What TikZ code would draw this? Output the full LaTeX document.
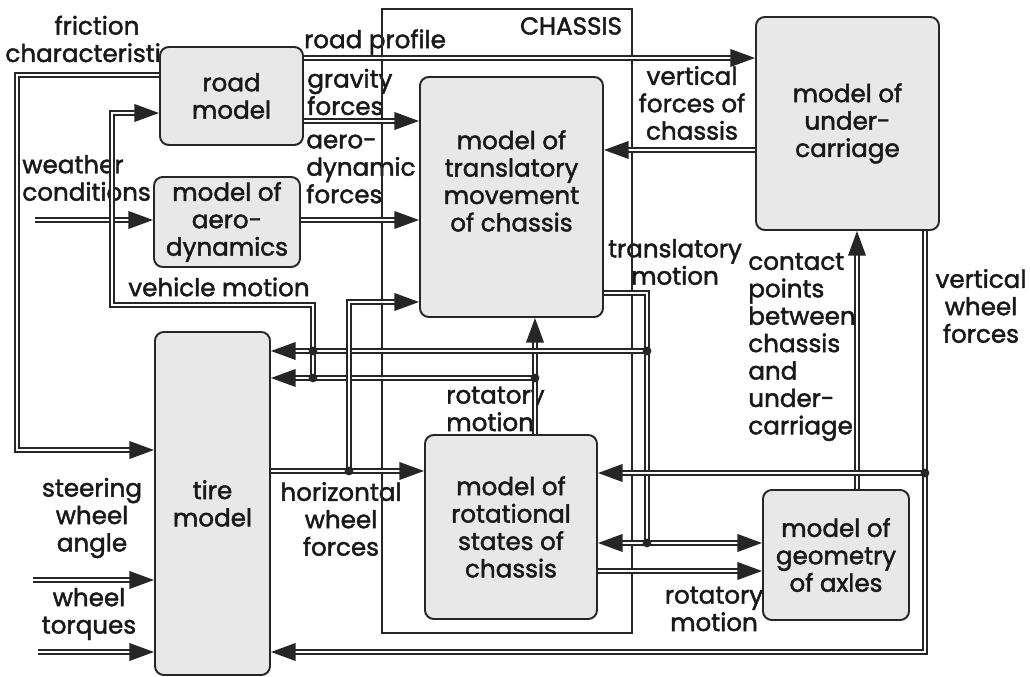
\documentclass[tikz,border=0pt]{standalone}
\usepackage{fontspec}
\setmainfont{Poppins}[FakeBold=1.8]
\usetikzlibrary{arrows.meta}
\newcommand{\diagfont}{\fontsize{14pt}{15.6pt}\selectfont}
\begin{document}
\begin{tikzpicture}[x=0.2mm,y=-0.2mm,
    block/.style={draw=black!85,line width=1.1pt,rounded corners=5pt,fill=black!9,align=center,inner sep=0pt,font=\diagfont,text=black!90},
    frame/.style={draw=black!85,line width=0.8pt,inner sep=0pt},
    lbl/.style={font=\diagfont,text=black!90,inner sep=0pt},
    flowline/.style={draw=black!85,line width=0.95pt,double=white,double distance=1.4pt},
    flow/.style={flowline,-{Triangle[length=14pt,width=10pt]}},
    flowboth/.style={flowline,{Triangle[length=14pt,width=10pt]}-{Triangle[length=14pt,width=10pt]}},
    dot/.style={circle,fill=black!85,inner sep=0pt,minimum size=5pt}]
  \useasboundingbox (0,0) rectangle (1030,677);

  \node[lbl,align=center] (friction) at (97,39) {friction\\characteristics};
  \node[lbl] (profile) at (375,42) {road profile};
  \node[lbl,align=left,anchor=west] (gravity) at (307,92) {gravity\\forces};
  \node[lbl,align=left,anchor=west] (aeroforces) at (306,169) {aero-\\dynamic\\forces};
  \node[lbl,align=left,anchor=west] (weather) at (22,178) {weather\\conditions};
  \node[lbl] (vehmotion) at (219,287) {vehicle motion};
  \node[lbl,align=center] (vertforces) at (692,103) {vertical\\forces of\\chassis};
  \node[lbl,align=center] (transmotion) at (675,262) {translatory\\motion};
  \node[lbl,align=left,anchor=west] (contact) at (748,347) {contact\\points\\between\\chassis\\and\\under-\\carriage};
  \node[lbl,align=center] (vertwheel) at (981,306) {vertical\\wheel\\forces};
  \node[lbl,align=left,anchor=west] (rotmotionA) at (446,409) {rotatory\\motion};
  \node[lbl,align=center] (rotmotionB) at (714,609) {rotatory\\motion};
  \node[lbl,align=center] (horwheel) at (341,519) {horizontal\\wheel\\forces};
  \node[lbl,align=center] (steering) at (92,518) {steering\\wheel\\angle};
  \node[lbl,align=center] (torques) at (89,614) {wheel\\torques};

  \node[frame,minimum width=50mm,minimum height=124.8mm] (chassis) at (507,321) {};
  \node[lbl] (chassislbl) at (571,26) {CHASSIS};

  \node[block,minimum width=28.6mm,minimum height=19.6mm] (road) at (231.5,96) {road\\model};
  \node[block,minimum width=29.2mm,minimum height=18mm] (aero) at (227,222) {model of\\aero-\\dynamics};
  \node[block,minimum width=36.6mm,minimum height=48mm,
    label={[lbl,align=center,yshift=3.2mm]center:model of\\translatory\\movement\\of chassis}] (trans) at (511.5,197) {};
  \node[block,minimum width=36.6mm,minimum height=42.6mm] (under) at (847.5,123.5) {model of\\under-\\carriage};
  \node[block,minimum width=23mm,minimum height=68.6mm] (tire) at (212.5,503.5) {tire\\model};
  \node[block,minimum width=34.4mm,minimum height=36.8mm] (rot) at (511,527) {model of\\rotational\\states of\\chassis};
  \node[block,minimum width=29.2mm,minimum height=26mm] (geom) at (836,555) {model of\\geometry\\of axles};

  \coordinate (wIn) at (35,220);
  \coordinate (sIn) at (33,580);
  \coordinate (tIn) at (38,652);
  \coordinate (jvmA) at (313,351);
  \coordinate (jvmB) at (313,378);
  \coordinate (jtmA) at (647,351);
  \coordinate (jtmB) at (647,543);
  \coordinate (jrm) at (535,378);
  \coordinate (jhw) at (349,471);
  \coordinate (jvw) at (925,473);

  \draw[flow] (road.west |- 0,75) -| (17,450) -- (tire.west |- 0,450);
  \draw[flow] (wIn) -- (aero.west |- wIn);
  \draw[flow] (jvmB) |- (112,305) |- (road.west |- 0,113);
  \draw[flow] (road.east |- 0,58) -- (under.west |- 0,58);
  \draw[flow] (road.east |- 0,121) -- (trans.west |- 0,121);
  \draw[flow] (aero.east |- 0,220) -- (trans.west |- 0,220);
  \draw[flow] (under.west |- 0,150) -- (trans.east |- 0,150);
  \draw[flowline] (trans.east |- 0,293) -| (jtmB);
  \draw[flow] (rot.north -| jrm) -- (trans.south -| jrm);
  \draw[flow] (jtmA) -- (tire.east |- jtmA);
  \draw[flow] (jrm) -- (tire.east |- jrm);
  \draw[flow] (tire.east |- jhw) -- (rot.west |- jhw);
  \draw[flow] (jhw) |- (trans.west |- 0,302);
  \draw[flowboth] (rot.east |- jtmB) -- (geom.west |- jtmB);
  \draw[flow] (rot.east |- 0,571) -- (geom.west |- 0,571);
  \draw[flow] (geom.north -| 857,0) -- (under.south -| 857,0);
  \draw[flow] (under.south -| jvw) |- (tire.east |- 0,652);
  \draw[flow] (jvw) -- (rot.east |- jvw);
  \draw[flow] (sIn) -- (tire.west |- sIn);
  \draw[flow] (tIn) -- (tire.west |- tIn);

  \node[dot] (dvmA) at (jvmA) {};
  \node[dot] (dvmB) at (jvmB) {};
  \node[dot] (dtmA) at (jtmA) {};
  \node[dot] (dtmB) at (jtmB) {};
  \node[dot] (drm) at (jrm) {};
  \node[dot] (dhw) at (jhw) {};
  \node[dot] (dvw) at (jvw) {};
\end{tikzpicture}
\end{document}
